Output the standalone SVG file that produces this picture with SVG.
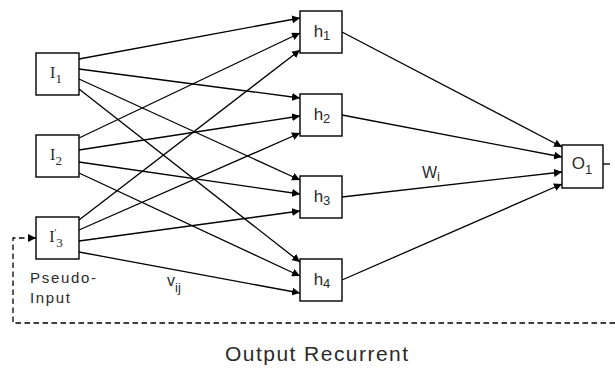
<svg xmlns="http://www.w3.org/2000/svg" width="615" height="369" viewBox="0 0 615 369">
<style>
.box{fill:#fff;stroke:#000;stroke-width:1.4}
.ln{fill:none;stroke:#000;stroke-width:1.3}
.dash{fill:none;stroke:#000;stroke-width:1.3;stroke-dasharray:5.5 3.5}
.sans{font-family:"Liberation Sans",Arial,sans-serif;fill:#2a2a2a}
.serif{font-family:"Liberation Serif","Times New Roman",serif;fill:#2a2a2a}
.lbl{font-size:17px}
.sub{font-size:13px}
</style>
<defs>
<marker id="ah" markerUnits="userSpaceOnUse" markerWidth="9" markerHeight="8" refX="8" refY="4" orient="auto">
<path d="M0,0 L8,4 L0,8 Z" fill="#000"/>
</marker>
</defs>
<rect width="615" height="369" fill="#fff"/>
<g id="connectors">
<line class="ln" x1="79" y1="59" x2="300" y2="18" marker-end="url(#ah)"/>
<line class="ln" x1="79" y1="69" x2="300" y2="98" marker-end="url(#ah)"/>
<line class="ln" x1="79" y1="79" x2="300" y2="180" marker-end="url(#ah)"/>
<line class="ln" x1="79" y1="89" x2="300" y2="262" marker-end="url(#ah)"/>
<line class="ln" x1="79" y1="138" x2="300" y2="33" marker-end="url(#ah)"/>
<line class="ln" x1="79" y1="150" x2="300" y2="116" marker-end="url(#ah)"/>
<line class="ln" x1="79" y1="162" x2="300" y2="194" marker-end="url(#ah)"/>
<line class="ln" x1="79" y1="173" x2="300" y2="276" marker-end="url(#ah)"/>
<line class="ln" x1="79" y1="220" x2="300" y2="50" marker-end="url(#ah)"/>
<line class="ln" x1="79" y1="230" x2="300" y2="133" marker-end="url(#ah)"/>
<line class="ln" x1="79" y1="241" x2="300" y2="211" marker-end="url(#ah)"/>
<line class="ln" x1="79" y1="252" x2="300" y2="293" marker-end="url(#ah)"/>
<line class="ln" x1="342" y1="32" x2="562" y2="147" marker-end="url(#ah)"/>
<line class="ln" x1="342" y1="115" x2="562" y2="157" marker-end="url(#ah)"/>
<line class="ln" x1="342" y1="197" x2="562" y2="172" marker-end="url(#ah)"/>
<line class="ln" x1="342" y1="280" x2="562" y2="184" marker-end="url(#ah)"/>
<line class="ln" x1="603" y1="164" x2="610" y2="164"/>
<path class="dash" d="M615,323 L13,323 L13,238 L30,238"/>
<line class="ln" x1="28" y1="238" x2="36" y2="238" marker-end="url(#ah)"/>
</g>
<g id="I1">
<rect class="box" x="36" y="53" width="43" height="42"/>
<text class="serif" x="56" y="78" font-size="16" text-anchor="middle">I<tspan class="sub" dy="5">1</tspan></text>
</g>
<g id="I2">
<rect class="box" x="36" y="135" width="43" height="42"/>
<text class="serif" x="56" y="160" font-size="16" text-anchor="middle">I<tspan class="sub" dy="5">2</tspan></text>
</g>
<g id="I3">
<rect class="box" x="36" y="217" width="43" height="42"/>
<text class="serif" x="56" y="242" font-size="16" text-anchor="middle">I<tspan font-size="10" dy="-6">'</tspan><tspan class="sub" dy="11">3</tspan></text>
<text class="sans" x="30" y="283" font-size="15" textLength="66" lengthAdjust="spacing">Pseudo-</text>
<text class="sans" x="30" y="303" font-size="15" textLength="40" lengthAdjust="spacing">Input</text>
</g>
<g id="h1">
<rect class="box" x="300" y="11" width="42" height="42"/>
<text class="sans lbl" x="322" y="37" text-anchor="middle">h<tspan class="sub" dy="3">1</tspan></text>
</g>
<g id="h2">
<rect class="box" x="300" y="94" width="42" height="42"/>
<text class="sans lbl" x="322" y="120" text-anchor="middle">h<tspan class="sub" dy="3">2</tspan></text>
</g>
<g id="h3">
<rect class="box" x="300" y="176" width="42" height="42"/>
<text class="sans lbl" x="322" y="202" text-anchor="middle">h<tspan class="sub" dy="3">3</tspan></text>
</g>
<g id="h4">
<rect class="box" x="300" y="259" width="42" height="42"/>
<text class="sans lbl" x="322" y="285" text-anchor="middle">h<tspan class="sub" dy="3">4</tspan></text>
</g>
<g id="O1">
<rect class="box" x="562" y="145" width="41" height="43"/>
<text class="sans lbl" x="582" y="169" text-anchor="middle">O<tspan class="sub" dy="5">1</tspan></text>
</g>
<g id="labels">
<text class="sans" x="422" y="178" font-size="16">W<tspan class="sub" dy="3">i</tspan></text>
<text class="sans" x="167" y="286" font-size="16">v<tspan class="sub" dy="6">ij</tspan></text>
<text class="sans" x="225" y="361" font-size="21" textLength="183" lengthAdjust="spacing">Output Recurrent</text>
</g>
</svg>
